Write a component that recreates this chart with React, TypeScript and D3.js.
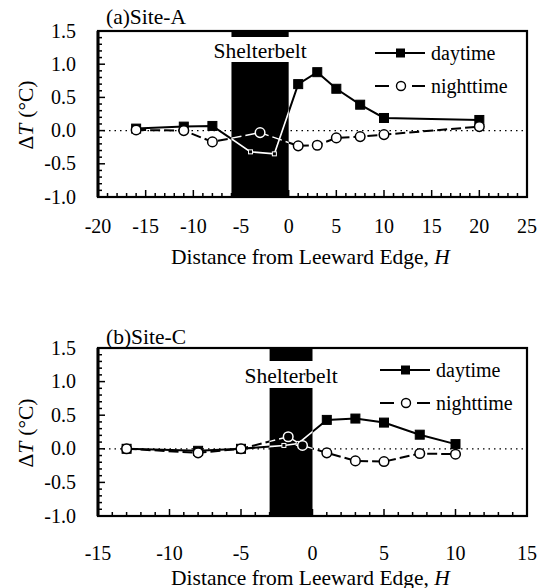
import React from "react";
import * as d3 from "d3";

// ---------- data ----------
const A_dayX = [-16, -11, -8, -4, -1.5, 1, 3, 5, 7.5, 10, 20];
const A_dayY = [0.03, 0.06, 0.07, -0.32, -0.35, 0.7, 0.88, 0.63, 0.39, 0.19, 0.16];
const A_nightX = [-16, -11, -8, -3, 1, 3, 5, 7.5, 10, 20];
const A_nightY = [0.01, 0.0, -0.17, -0.03, -0.23, -0.22, -0.11, -0.09, -0.06, 0.06];
const A_xTicks = [-20, -15, -10, -5, 0, 5, 10, 15, 20, 25];
const A_belt = [-6, 0];

const B_dayX = [-13, -8, -5, -2, -1, 1, 3, 5, 7.5, 10];
const B_dayY = [0.0, -0.03, 0.0, 0.05, 0.08, 0.43, 0.45, 0.39, 0.21, 0.07];
const B_nightX = [-13, -8, -5, -1.7, -0.7, 1, 3, 5, 7.5, 10];
const B_nightY = [0.0, -0.06, 0.0, 0.18, 0.05, -0.06, -0.18, -0.19, -0.07, -0.08];
const B_xTicks = [-15, -10, -5, 0, 5, 10, 15];
const B_belt = [-3, 0];

const yTicks = [-1.0, -0.5, 0.0, 0.5, 1.0, 1.5];
const seriesNames = ["daytime", "nighttime"];
const beltLabel = "Shelterbelt";
const xTitle = "Distance from Leeward Edge, ";

const FS = '"Liberation Serif"';

type PanelProps = {
  id: string;
  title: string;
  dayX: number[];
  dayY: number[];
  nightX: number[];
  nightY: number[];
  xTicks: number[];
  belt: number[];
  top: number;
  bottom: number;
  bandTop: number;
  bandBottom: number;
  beltTextY: number;
  titleY: number;
  tickLabelY: number;
  xTitleY: number;
  legendX: number;
};

function Panel(p: PanelProps) {
  const left = 98;
  const right = 527;
  const x = d3
    .scaleLinear()
    .domain([p.xTicks[0], p.xTicks[p.xTicks.length - 1]])
    .range([left, right]);
  const y = d3.scaleLinear().domain([-1, 1.5]).range([p.bottom, p.top]);

  const dayPts: [number, number][] = p.dayX.map((v, i) => [v, p.dayY[i]]);
  const nightPts: [number, number][] = p.nightX.map((v, i) => [v, p.nightY[i]]);
  const line = d3
    .line<[number, number]>()
    .x((d) => x(d[0]))
    .y((d) => y(d[1]));

  const bx0 = x(p.belt[0]);
  const bx1 = x(p.belt[1]);
  const inBelt = (v: number) => v > p.belt[0] && v < p.belt[1];

  const xMinor = d3.range(p.xTicks[0], p.xTicks[p.xTicks.length - 1] + 0.001, 1);
  const yMinor = d3.range(-1, 1.5001, 0.1);

  const ly1 = p.top + 22;
  const ly2 = p.top + 55;
  const lx = p.legendX;

  return (
    <g>
      <defs>
        <clipPath id={`out-${p.id}`}>
          <rect x={left} y={p.top} width={bx0 - left} height={p.bottom - p.top} />
          <rect x={bx1} y={p.top} width={right - bx1} height={p.bottom - p.top} />
        </clipPath>
        <clipPath id={`in-${p.id}`}>
          <rect x={bx0} y={p.top} width={bx1 - bx0} height={p.bottom - p.top} />
        </clipPath>
      </defs>
      {/* zero line */}
      <line
        x1={left}
        x2={right}
        y1={y(0)}
        y2={y(0)}
        stroke="#000"
        strokeWidth={1.2}
        strokeDasharray="1.5,4"
      />
      {/* shelterbelt */}
      <rect x={bx0} y={p.top} width={bx1 - bx0} height={p.bandTop - p.top} fill="#000" />
      <rect x={bx0} y={p.bandBottom} width={bx1 - bx0} height={p.bottom - p.bandBottom} fill="#000" />
      <text x={(bx0 + bx1) / 2} y={p.beltTextY} textAnchor="middle" fontSize={21.5} style={{ fontFamily: FS }}>
        {beltLabel}
      </text>

      {/* lines outside belt */}
      <g clipPath={`url(#out-${p.id})`} fill="none">
        <path d={line(dayPts) || ""} stroke="#000" strokeWidth={2} />
        <path d={line(nightPts) || ""} stroke="#000" strokeWidth={2} strokeDasharray="10,4" />
      </g>
      {/* lines inside belt */}
      <g clipPath={`url(#in-${p.id})`} fill="none">
        <path d={line(dayPts) || ""} stroke="#fff" strokeWidth={1.6} />
        <path d={line(nightPts) || ""} stroke="#fff" strokeWidth={1.4} strokeDasharray="10,4" />
      </g>

      {/* markers */}
      {dayPts.map((d, i) => (
        <rect
          key={`d${i}`}
          x={x(d[0]) - (inBelt(d[0]) ? 2 : 4.5)}
          y={y(d[1]) - (inBelt(d[0]) ? 2 : 4.5)}
          width={inBelt(d[0]) ? 4 : 9}
          height={inBelt(d[0]) ? 4 : 9}
          fill="#000"
          stroke={inBelt(d[0]) ? "#fff" : "#000"}
          strokeWidth={1}
        />
      ))}
      {nightPts.map((d, i) => (
        <circle
          key={`n${i}`}
          cx={x(d[0])}
          cy={y(d[1])}
          r={4.8}
          fill={inBelt(d[0]) ? "#000" : "#fff"}
          stroke={inBelt(d[0]) ? "#fff" : "#000"}
          strokeWidth={1.5}
        />
      ))}

      {/* legend */}
      <line x1={lx} x2={lx + 50} y1={ly1} y2={ly1} stroke="#000" strokeWidth={2} />
      <rect x={lx + 21} y={ly1 - 4.5} width={9} height={9} fill="#000" />
      <text x={lx + 56} y={ly1 + 7} fontSize={20} style={{ fontFamily: FS }}>
        {seriesNames[0]}
      </text>
      <line
        x1={lx}
        x2={lx + 50}
        y1={ly2}
        y2={ly2}
        stroke="#000"
        strokeWidth={2}
        strokeDasharray="14,23,13"
      />
      <circle cx={lx + 26} cy={ly2} r={4.5} fill="#fff" stroke="#000" strokeWidth={1.4} />
      <text x={lx + 56} y={ly2 + 7} fontSize={20} style={{ fontFamily: FS }}>
        {seriesNames[1]}
      </text>

      {/* ticks */}
      {xMinor.map((v) => {
        const major = Math.abs(v % 5) < 1e-6;
        return (
          <line
            key={`xt${v}`}
            x1={x(v)}
            x2={x(v)}
            y1={p.bottom}
            y2={p.bottom - (major ? 7 : 4)}
            stroke="#000"
            strokeWidth={1.5}
          />
        );
      })}
      {yMinor.map((v, i) => {
        const major = i % 5 === 0;
        return (
          <line
            key={`yt${i}`}
            x1={left}
            x2={left + (major ? 7 : 4)}
            y1={y(v)}
            y2={y(v)}
            stroke="#000"
            strokeWidth={1.5}
          />
        );
      })}

      {/* frame */}
      <rect
        x={left}
        y={p.top}
        width={right - left}
        height={p.bottom - p.top}
        fill="none"
        stroke="#000"
        strokeWidth={2.2}
      />
      <line x1={left} x2={left} y1={p.top} y2={p.bottom} stroke="#000" strokeWidth={3} />

      {/* tick labels */}
      {p.xTicks.map((v) => (
        <text key={`xl${v}`} x={x(v)} y={p.tickLabelY} textAnchor="middle" fontSize={20} style={{ fontFamily: FS }}>
          {String(v)}
        </text>
      ))}
      {yTicks.map((v) => (
        <text key={`yl${v}`} x={76} y={y(v) + 6.5} textAnchor="end" fontSize={20} style={{ fontFamily: FS }}>
          {v.toFixed(1)}
        </text>
      ))}

      {/* titles */}
      <text x={106} y={p.titleY} fontSize={21.5} style={{ fontFamily: FS }}>
        {p.title}
      </text>
      <text x={(left + right) / 2 - 2} y={p.xTitleY} textAnchor="middle" fontSize={21.5} style={{ fontFamily: FS }}>
        {xTitle}
        <tspan fontStyle="italic">H</tspan>
      </text>
      <text
        transform={`translate(33, ${(p.top + p.bottom) / 2 + 1}) rotate(-90)`}
        textAnchor="middle"
        fontSize={21.5}
        style={{ fontFamily: FS }}
      >
        {"Δ"}
        <tspan fontStyle="italic">T</tspan>
        <tspan dx={6}>{"(°C)"}</tspan>
      </text>
    </g>
  );
}

export default function App() {
  return (
    <svg width={548} height={588} style={{ position: "absolute", left: 0, top: 0, background: "#fff" }}>
      <rect width={548} height={588} fill="#fff" />
      <Panel
        id="a"
        title="(a)Site-A"
        dayX={A_dayX}
        dayY={A_dayY}
        nightX={A_nightX}
        nightY={A_nightY}
        xTicks={A_xTicks}
        belt={A_belt}
        top={31}
        bottom={197}
        bandTop={37}
        bandBottom={62}
        beltTextY={58}
        titleY={24}
        tickLabelY={233}
        xTitleY={264}
        legendX={375}
      />
      <Panel
        id="b"
        title="(b)Site-C"
        dayX={B_dayX}
        dayY={B_dayY}
        nightX={B_nightX}
        nightY={B_nightY}
        xTicks={B_xTicks}
        belt={B_belt}
        top={348}
        bottom={516}
        bandTop={361}
        bandBottom={388}
        beltTextY={383}
        titleY={344}
        tickLabelY={560}
        xTitleY={585}
        legendX={380}
      />
    </svg>
  );
}
